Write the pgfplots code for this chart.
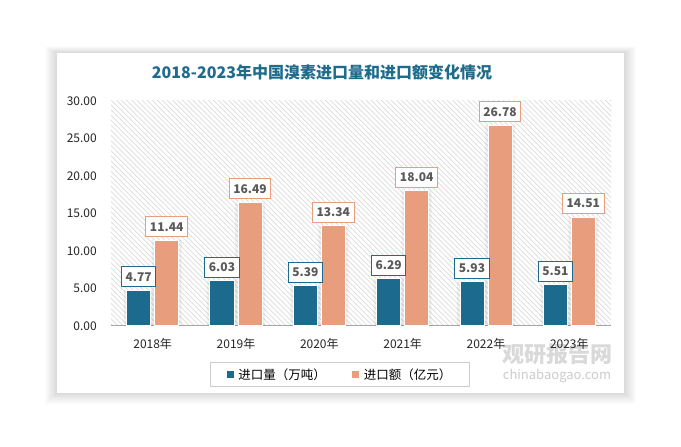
\documentclass[border=0pt]{standalone}
\usepackage{fontspec}
\setmainfont{Noto Sans CJK SC}
\usepackage{pgfplots}
\pgfplotsset{compat=1.18}
\usetikzlibrary{patterns.meta}
\definecolor{cblue}{HTML}{1C6B8E}
\definecolor{corange}{HTML}{E89D7C}
\definecolor{ctitle}{HTML}{1F6B8C}
\definecolor{clabel}{HTML}{595959}
\definecolor{caxis}{HTML}{A6A6A6}

\begin{document}
\begin{tikzpicture}[x=1pt,y=1pt]
\path[use as bounding box] (0,0) rectangle (681,447);
\fill[white] (0,0) rectangle (681,447);
% card shadow
\foreach \i in {1,...,12} {
  \fill[black, opacity=0.011] (57-\i,54-0.9*\i) rectangle (624+\i,394+0.5*\i);
}
\fill[white] (57,54) rectangle (624,394);
% title
\node[font=\fontsize{16pt}{18pt}\selectfont\bfseries, text=ctitle] at (322,375) {2018-2023年中国溴素进口量和进口额变化情况};
% watermark
\node[font=\fontsize{22pt}{24pt}\selectfont\bfseries, text=gray!30] at (557,93) {观研报告网};
\node[font=\fontsize{13pt}{15pt}\selectfont, text=gray!40] at (557,71) {chinabaogao.com};

\begin{axis}[
  at={(111pt,121pt)}, anchor=south west, scale only axis,
  width=500pt, height=225pt,
  xmin=-0.5, xmax=5.5, ymin=0, ymax=30,
  axis x line*=bottom, axis y line*=left,
  x axis line style={draw=caxis, line width=1pt, -},
  y axis line style={draw=none},
  axis background/.style={pattern={Lines[angle=-45,distance=3.6pt,line width=0.7pt]}, pattern color=gray!28},
  xtick={0,1,2,3,4,5},
  xticklabels={2018年,2019年,2020年,2021年,2022年,2023年},
  ytick={0,5,10,15,20,25,30},
  major tick length=0pt,
  tick style={draw=none},
  yticklabel={\pgfmathprintnumber[fixed,fixed zerofill,precision=2]{\tick}},
  /pgf/number format/assume math mode=true,
  yticklabel style={font=\fontsize{12pt}{14pt}\selectfont, text=black!85, inner sep=0pt, xshift=-14pt, anchor=east},
  xticklabel style={font=\fontsize{12pt}{14pt}\selectfont, text=black!85, inner sep=0pt, yshift=-12pt, anchor=north},
  clip=false,
  legend style={at={(0.458,-0.16)}, anchor=north, draw=gray!40, line width=0.8pt,
    font=\fontsize{12.5pt}{14pt}\selectfont, legend columns=2,
    inner xsep=16pt, inner ysep=4pt,
    /tikz/every odd column/.append style={column sep=3pt},
    /tikz/every even column/.append style={column sep=24pt}},
]
% bar shadows
\addplot[ybar, bar width=30pt, bar shift=-14pt, fill=black, draw=none, opacity=0.05, forget plot]
  coordinates {(0,4.77) (1,6.03) (2,5.39) (3,6.29) (4,5.93) (5,5.51)};
\addplot[ybar, bar width=30pt, bar shift=14pt, fill=black, draw=none, opacity=0.05, forget plot]
  coordinates {(0,11.44) (1,16.49) (2,13.34) (3,18.04) (4,26.78) (5,14.51)};
% bars
\addplot[ybar, bar width=24pt, bar shift=-14pt, fill=cblue, draw=white, line width=1pt, forget plot,
  nodes near coords={\pgfmathprintnumber[fixed,fixed zerofill,precision=2]{\pgfplotspointmeta}},
  every node near coord/.append style={draw=cblue, fill=white, text=clabel, line width=0.9pt,
    font=\fontsize{12pt}{14pt}\selectfont\bfseries, inner xsep=4pt, minimum height=20pt, anchor=south, xshift=-14pt, yshift=3pt}]
  coordinates {(0,4.77) (1,6.03) (2,5.39) (3,6.29) (4,5.93) (5,5.51)};
\addplot[ybar, bar width=24pt, bar shift=14pt, fill=corange, draw=white, line width=1pt, forget plot,
  nodes near coords={\pgfmathprintnumber[fixed,fixed zerofill,precision=2]{\pgfplotspointmeta}},
  every node near coord/.append style={draw=corange, fill=white, text=clabel, line width=0.9pt,
    font=\fontsize{12pt}{14pt}\selectfont\bfseries, inner xsep=4pt, minimum height=20pt, anchor=south, xshift=14pt, yshift=3pt}]
  coordinates {(0,11.44) (1,16.49) (2,13.34) (3,18.04) (4,26.78) (5,14.51)};
\addlegendimage{legend image code/.code={\fill[cblue] (0pt,-3pt) rectangle (6pt,3pt);}}
\addlegendentry{进口量（万吨）}
\addlegendimage{legend image code/.code={\fill[corange] (0pt,-3pt) rectangle (6pt,3pt);}}
\addlegendentry{进口额（亿元）}
\end{axis}
\end{tikzpicture}
\end{document}
